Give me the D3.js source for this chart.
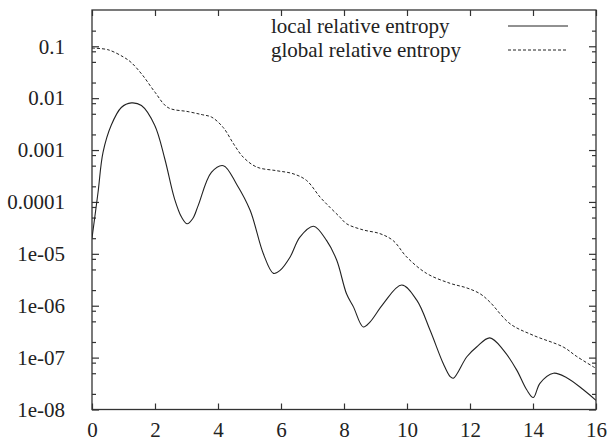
<!DOCTYPE html>
<html>
<head>
<meta charset="utf-8">
<script src="https://cdn.jsdelivr.net/npm/d3@7"></script>
<style>
  body { margin: 0; background: #fff; }
</style>
</head>
<body>
<svg id="Vis" width="608" height="444"></svg>
<script>
const margin = { top: 10, bottom: 34.5, left: 92, right: 12 };
const fontFamily = "'Liberation Serif', 'Times New Roman', Times, 'DejaVu Serif', serif";

/* DATA */
const localX = [0, 0.19, 0.35, 0.61, 0.93, 1.25, 1.57, 1.99, 2.31, 2.62, 2.85, 3.02, 3.2, 3.37, 3.79, 4.17,
  4.59, 5.02, 5.44, 5.76, 5.97, 6.29, 6.6, 7.03, 7.45, 7.77, 8.08, 8.3, 8.61, 8.83, 9.25, 9.83,
  10.31, 10.73, 11.15, 11.37, 11.47, 11.9, 12.21, 12.63, 13.06, 13.48, 13.8, 14.01, 14.22, 14.65,
  15.07, 15.6, 16];
const localY = [2e-5, 1.5e-4, 9e-4, 0.003, 0.0066, 0.0081, 0.0072, 0.003, 6.8e-4, 1.15e-4, 5e-5, 3.8e-5,
  4.8e-5, 8.5e-5, 3.7e-4, 5e-4, 2.2e-4, 6.9e-5, 1e-5, 4.2e-6, 4.8e-6, 8.7e-6, 2.1e-5, 3.4e-5, 1.8e-5,
  7.5e-6, 1.7e-6, 9.5e-7, 3.9e-7, 4.9e-7, 1.1e-6, 2.5e-6, 1.28e-6, 3.4e-7, 7.7e-8, 4.3e-8, 4e-8,
  1.04e-7, 1.6e-7, 2.4e-7, 1.4e-7, 5.8e-8, 2.4e-8, 1.7e-8, 3.2e-8, 5e-8, 4.1e-8, 2.4e-8, 1.5e-8];

const globalX = [0, 0.5, 1.0, 1.24, 1.6, 2.0, 2.41, 3.05, 3.5, 3.8, 4.17, 4.5, 4.8, 5.23, 5.86, 6.38,
  6.81, 7.24, 7.56, 7.87, 8.08, 8.6, 9.14, 9.56, 9.99, 10.62, 11.37, 11.9, 12.32, 12.63, 13.27, 14.0,
  14.96, 15.39, 16];
const globalY = [0.092, 0.086, 0.062, 0.049, 0.028, 0.013, 0.0066, 0.0055, 0.0048, 0.0043, 0.0027, 0.0013,
  7.3e-4, 4.7e-4, 4e-4, 3.5e-4, 2.6e-4, 1.24e-4, 7.8e-5, 5.1e-5, 3.8e-5, 2.9e-5, 2.45e-5, 1.8e-5,
  8.7e-6, 4.2e-6, 2.7e-6, 2.2e-6, 1.7e-6, 1.18e-6, 4.5e-7, 2.7e-7, 1.6e-7, 1.05e-7, 6.2e-8];

const xTicks = [0, 2, 4, 6, 8, 10, 12, 14, 16];
const yTicks = [0.1, 0.01, 0.001, 0.0001, 1e-5, 1e-6, 1e-7, 1e-8];
const yTickLabels = ["0.1", "0.01", "0.001", "0.0001", "1e-05", "1e-06", "1e-07", "1e-08"];
const minorMult = [2, 5, 8];

const seriesNames = ["local relative entropy", "global relative entropy"];

let svg = d3.select("svg#Vis");
const width = 608, height = 444;
const plotWidth = width - margin.left - margin.right;
const plotHeight = height - margin.top - margin.bottom;

const plot = svg.append("g").attr("transform", translate(margin.left, margin.top));

/* SCALES */
const xScale = d3.scaleLinear().domain([0, 16]).range([0, plotWidth]);
const yScale = d3.scaleLog().domain([1e-8, 0.5]).range([plotHeight, 0]);

/* minor tick values */
let minorTicks = [];
[1e-9].concat(yTicks).forEach(t => minorMult.forEach(m => {
  const v = t * m;
  if (v > 1e-8 && v < 0.5) minorTicks.push(v);
}));

/* AXES */
const axisColor = "#333";

function styleAxis(g) {
  g.select(".domain").remove();
  g.attr("font-family", null);
  g.selectAll("line").attr("stroke", axisColor).attr("stroke-width", 1.2);
  g.selectAll("text")
    .style("font-family", fontFamily)
    .style("font-size", "21px")
    .style("fill", "#222");
}

plot.append("g")
  .attr("transform", translate(0, plotHeight))
  .call(d3.axisBottom(xScale).tickValues(xTicks).tickSize(-6).tickPadding(13).tickFormat(d3.format("d")))
  .call(styleAxis);

plot.append("g")
  .call(d3.axisTop(xScale).tickValues(xTicks).tickSize(-6).tickFormat(""))
  .call(styleAxis);

plot.append("g")
  .call(d3.axisLeft(yScale).tickValues(yTicks).tickSize(-7).tickPadding(27)
    .tickFormat((d, i) => yTickLabels[i]))
  .call(styleAxis);

plot.append("g")
  .call(d3.axisLeft(yScale).tickValues(minorTicks).tickSize(-4).tickFormat(""))
  .call(styleAxis);

plot.append("g")
  .attr("transform", translate(plotWidth, 0))
  .call(d3.axisRight(yScale).tickValues(yTicks).tickSize(-7).tickFormat(""))
  .call(styleAxis);

plot.append("g")
  .attr("transform", translate(plotWidth, 0))
  .call(d3.axisRight(yScale).tickValues(minorTicks).tickSize(-4).tickFormat(""))
  .call(styleAxis);

/* FRAME */
plot.append("rect")
  .attr("x", 0).attr("y", 0)
  .attr("width", plotWidth).attr("height", plotHeight)
  .attr("fill", "none")
  .attr("stroke", axisColor)
  .attr("stroke-width", 1.3);

/* CURVES */
plot.append("clipPath").attr("id", "clip")
  .append("rect").attr("width", plotWidth).attr("height", plotHeight);

const line = d3.line()
  .x(d => xScale(d[0]))
  .y(d => yScale(d[1]))
  .curve(d3.curveCatmullRom.alpha(0.5));

const localData = d3.zip(localX, localY);
const globalData = d3.zip(globalX, globalY);

plot.append("path")
  .datum(localData)
  .attr("clip-path", "url(#clip)")
  .attr("d", line)
  .attr("fill", "none")
  .attr("stroke", "#222")
  .attr("stroke-width", 1.1);

plot.append("path")
  .datum(globalData)
  .attr("clip-path", "url(#clip)")
  .attr("d", line)
  .attr("fill", "none")
  .attr("stroke", "#222")
  .attr("stroke-width", 1)
  .attr("stroke-dasharray", "3,2");

/* LEGEND */
const legend = svg.append("g").attr("id", "legend");
const legendRows = [
  { name: seriesNames[0], y: 26, dash: null },
  { name: seriesNames[1], y: 50, dash: "3,2" }
];

legendRows.forEach(r => {
  legend.append("text")
    .attr("x", 271)
    .attr("y", r.y)
    .attr("dy", "0.32em")
    .style("font-family", fontFamily)
    .style("font-size", "21px")
    .style("fill", "#222")
    .text(r.name);
  legend.append("line")
    .attr("x1", 508).attr("x2", 568)
    .attr("y1", r.y).attr("y2", r.y)
    .attr("stroke", "#222")
    .attr("stroke-width", 1)
    .attr("stroke-dasharray", r.dash);
});

/*
 * returns a translate string for the transform attribute
 */
function translate(x, y) {
  return 'translate(' + String(x) + ',' + String(y) + ')';
}
</script>
</body>
</html>
